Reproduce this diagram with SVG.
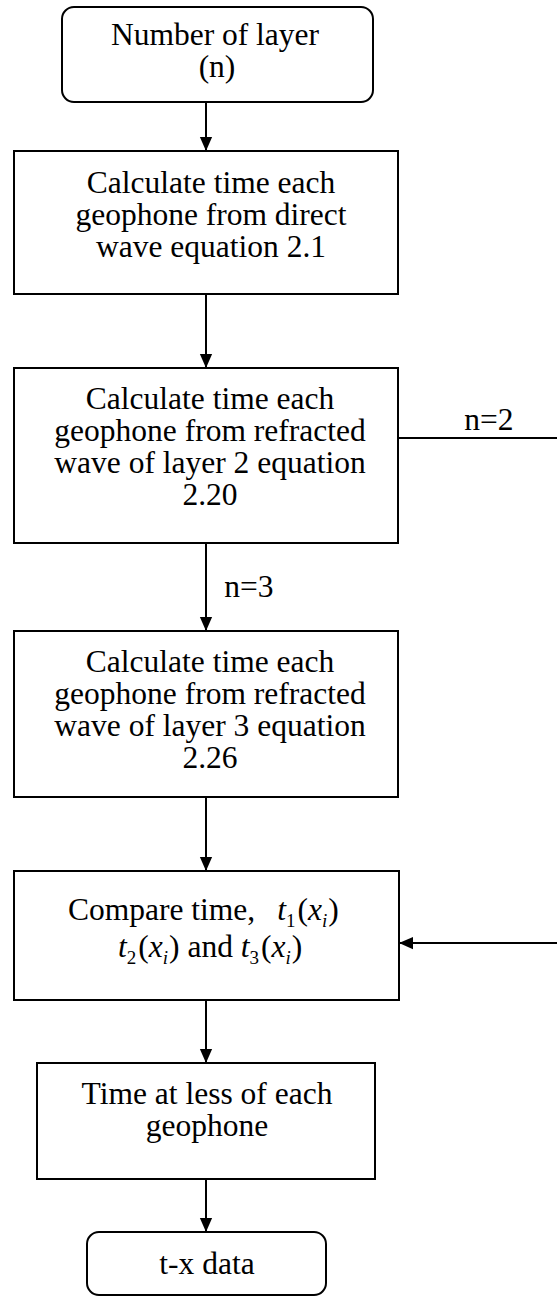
<svg xmlns="http://www.w3.org/2000/svg" width="557" height="1299" viewBox="0 0 557 1299">
<defs>
<marker id="ah" markerWidth="14" markerHeight="16" refX="16" refY="7" orient="auto" markerUnits="userSpaceOnUse" viewBox="0 0 16 14">
<path d="M0,0 L16,7 L0,14 Z" fill="#000"/>
</marker>
<style>
.box{fill:#fff;stroke:#000;stroke-width:2}
.t{font-family:"Liberation Serif","Times New Roman",serif;font-size:31.5px;fill:#000;text-anchor:middle}
.c{stroke:#000;stroke-width:2;fill:none}
.m{font-family:"Liberation Serif","Times New Roman",serif;font-size:31.5px;fill:#000}
.i{font-style:italic}
</style>
</defs>
<rect width="557" height="1299" fill="#fff"/>
<g id="connectors">
<line class="c" x1="206" y1="102" x2="206" y2="151" marker-end="url(#ah)"/>
<line class="c" x1="206" y1="294" x2="206" y2="368" marker-end="url(#ah)"/>
<line class="c" x1="206" y1="543" x2="206" y2="631" marker-end="url(#ah)"/>
<line class="c" x1="206" y1="797" x2="206" y2="871" marker-end="url(#ah)"/>
<line class="c" x1="206" y1="1000" x2="206" y2="1063" marker-end="url(#ah)"/>
<line class="c" x1="206" y1="1179" x2="206" y2="1232" marker-end="url(#ah)"/>
<line class="c" x1="398" y1="438" x2="557" y2="438"/>
<line class="c" x1="557" y1="943" x2="399" y2="943" marker-end="url(#ah)"/>
<text class="t" x="489" y="430">n=2</text>
<text class="t" x="249" y="597">n=3</text>
</g>
<g id="n1">
<rect class="box" x="62" y="7" width="311" height="95" rx="12"/>
<text class="t" x="215" y="45">Number of layer</text>
<text class="t" x="217" y="77">(n)</text>
</g>
<g id="n2">
<rect class="box" x="14" y="151" width="384" height="143"/>
<text class="t" x="211" y="193">Calculate time each</text>
<text class="t" x="211" y="225">geophone from direct</text>
<text class="t" x="211" y="257">wave equation 2.1</text>
</g>
<g id="n3">
<rect class="box" x="14" y="368" width="384" height="175"/>
<text class="t" x="210" y="409">Calculate time each</text>
<text class="t" x="210" y="441">geophone from refracted</text>
<text class="t" x="210" y="473">wave of layer 2 equation</text>
<text class="t" x="210" y="505">2.20</text>
</g>
<g id="n4">
<rect class="box" x="14" y="631" width="384" height="166"/>
<text class="t" x="210" y="672">Calculate time each</text>
<text class="t" x="210" y="704">geophone from refracted</text>
<text class="t" x="210" y="736">wave of layer 3 equation</text>
<text class="t" x="210" y="768">2.26</text>
</g>
<g id="n5">
<rect class="box" x="14" y="871" width="385" height="129"/>
<text class="m" x="68" y="920">Compare time,<tspan dx="22" class="i">t</tspan><tspan font-size="19" dy="7">1</tspan><tspan dx="2" dy="-7">(</tspan><tspan class="i">x</tspan><tspan class="i" font-size="19" dy="7">i</tspan><tspan dx="1" dy="-7">)</tspan></text>
<text class="m" x="118" y="957"><tspan class="i">t</tspan><tspan font-size="19" dy="7">2</tspan><tspan dx="2" dy="-7">(</tspan><tspan class="i">x</tspan><tspan class="i" font-size="19" dy="7">i</tspan><tspan dx="1" dy="-7">)</tspan> and <tspan class="i">t</tspan><tspan font-size="19" dy="7">3</tspan><tspan dx="2" dy="-7">(</tspan><tspan class="i">x</tspan><tspan class="i" font-size="19" dy="7">i</tspan><tspan dx="1" dy="-7">)</tspan></text>
</g>
<g id="n6">
<rect class="box" x="37" y="1063" width="338" height="116"/>
<text class="t" x="207" y="1104">Time at less of each</text>
<text class="t" x="207" y="1136">geophone</text>
</g>
<g id="n7">
<rect class="box" x="87" y="1232" width="239" height="63" rx="12"/>
<text class="t" x="207" y="1274">t-x data</text>
</g>
</svg>
